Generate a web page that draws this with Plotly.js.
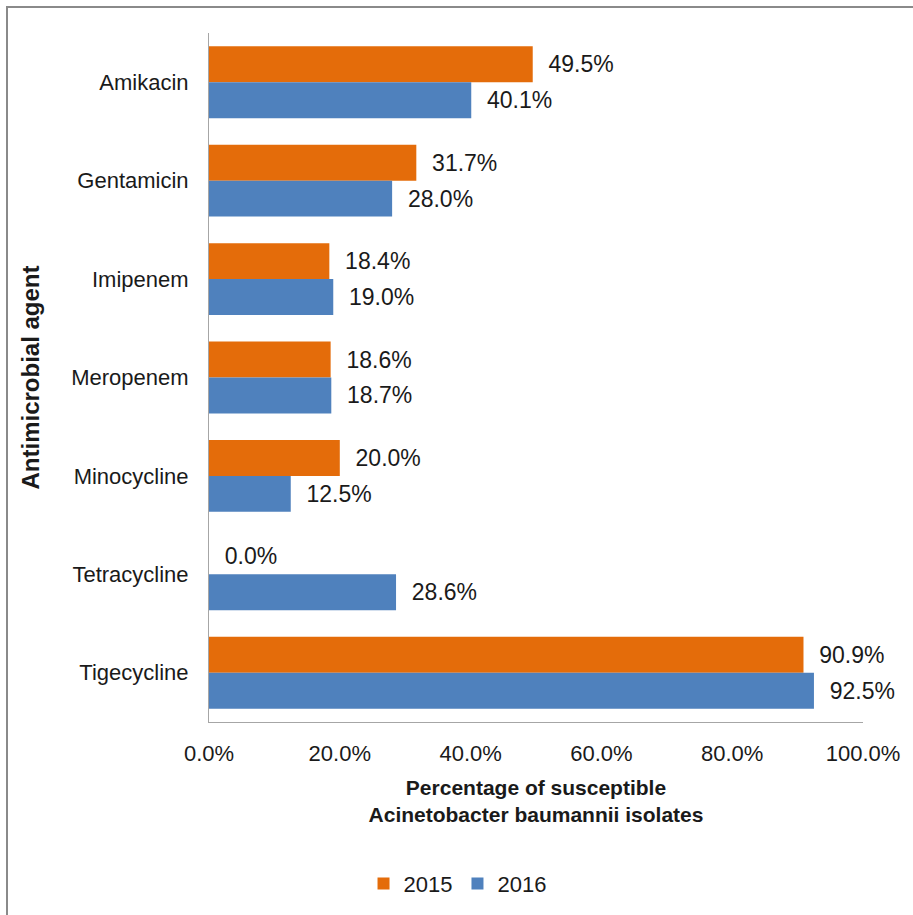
<!DOCTYPE html>
<html>
<head>
<meta charset="utf-8">
<script src="https://cdn.plot.ly/plotly-3.0.1.min.js"></script>
<style>
html,body{margin:0;padding:0;background:#fff;}
#wrap{position:relative;width:913px;height:915px;}
#chart{width:913px;height:915px;}
#frame{position:absolute;left:6px;top:6px;right:0;bottom:0;border-top:2px solid #8a8a8a;border-left:2px solid #8a8a8a;pointer-events:none;}
</style>
</head>
<body>
<div id="wrap"><div id="chart"></div><div id="frame"></div></div>
<script>
const categories = ["Amikacin","Gentamicin","Imipenem","Meropenem","Minocycline","Tetracycline","Tigecycline"];
const values2015 = [0.495,0.317,0.184,0.186,0.200,0.000,0.909];
const values2016 = [0.401,0.280,0.190,0.187,0.125,0.286,0.925];
const seriesNames = ["2015","2016"];
const xTicks = [0,0.2,0.4,0.6,0.8,1.0];

const fam = "Liberation Sans, Arial, sans-serif";
const font = {family:fam, size:22, color:"#1a1a1a"};
const valFont = {family:fam, size:23, color:"#1a1a1a"};
const mk = (name, vals, color) => ({
  type:"bar", orientation:"h", name:name, x:vals, y:categories,
  marker:{color:color},
  text:vals.map(v => (v*100).toFixed(1)+"%"),
  texttemplate:"\u00a0\u00a0%{text}",
  textposition:"outside", cliponaxis:false,
  textfont:valFont, hoverinfo:"skip"
});
const data = [mk(seriesNames[0], values2015, "#E46C0A"), mk(seriesNames[1], values2016, "#4F81BD")];
const layout = {
  width:913, height:915,
  margin:{l:209, r:50, t:33, b:192},
  paper_bgcolor:"#fff", plot_bgcolor:"#fff",
  font:font,
  barmode:"group", bargap:0.27, bargroupgap:0,
  xaxis:{range:[0,1], tickvals:xTicks, tickformat:".1%", showgrid:false, zeroline:false,
         showline:true, linecolor:"#a6a6a6", linewidth:1, ticks:"", ticklabelstandoff:12,
         tickfont:font, fixedrange:true, automargin:false,
         title:{text:"<b>Percentage of susceptible<br>Acinetobacter baumannii isolates</b>", font:{family:fam,size:21,color:"#1a1a1a"}, standoff:14}},
  yaxis:{type:"category", autorange:"reversed", showgrid:false, zeroline:false,
         showline:true, linecolor:"#a6a6a6", linewidth:1, ticks:"", ticklabelstandoff:15,
         tickfont:font, fixedrange:true, automargin:false,
         title:{text:"<b>Antimicrobial agent</b>", font:{family:fam,size:24,color:"#1a1a1a"}, standoff:24}},
  showlegend:true,
  legend:{orientation:"h", x:0.38, xanchor:"center", y:-0.233, yanchor:"middle", font:font,
          traceorder:"normal", itemwidth:30},
};
Plotly.newPlot("chart", data, layout, {displayModeBar:false, staticPlot:true});
</script>
</body>
</html>
